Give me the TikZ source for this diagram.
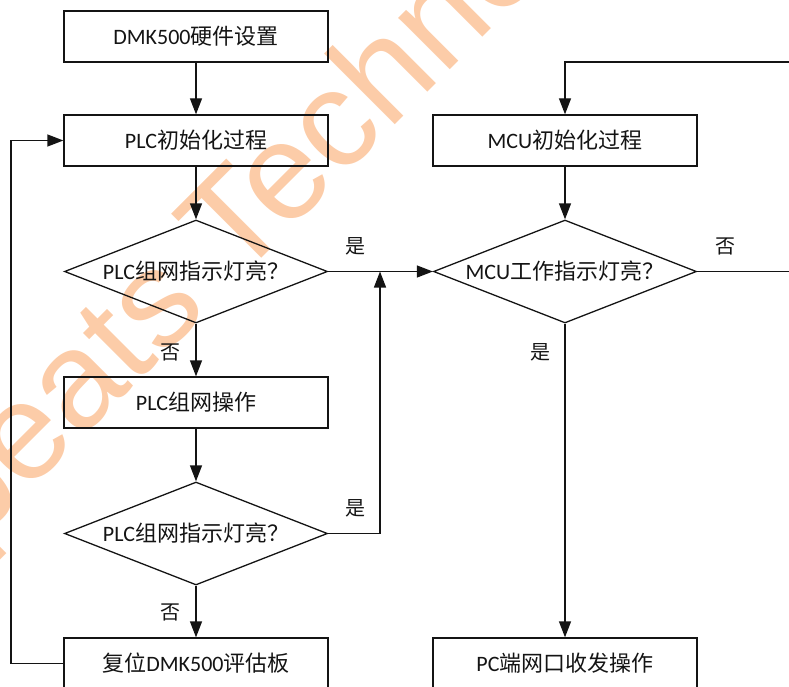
\documentclass[tikz,border=0pt]{standalone}
\usepackage{fontspec}
\setmainfont{Carlito}
\newfontfamily\cjk{Noto Sans CJK SC}
\newfontfamily\wmfont{Liberation Sans}
\usetikzlibrary{shapes.geometric,arrows.meta}
\definecolor{wmcol}{RGB}{252,204,168}
\definecolor{ink}{RGB}{20,20,20}
\begin{document}
\begin{tikzpicture}[x=1pt,y=-1pt,
  proc/.style={draw=ink,line width=1.3pt,minimum width=264pt,minimum height=51pt,inner sep=0pt,text=ink,font=\fontsize{22}{22}\selectfont},
  dec/.style={draw=ink,diamond,line width=1.3pt,minimum width=263pt,minimum height=103pt,inner sep=0pt,text=ink,font=\fontsize{22}{22}\selectfont},
  arr/.style={draw=ink,line width=1.3pt,-{Triangle[length=16pt,width=12pt]}},
  ln/.style={draw=ink,line width=1.3pt},
  lbl/.style={text=ink,inner sep=0pt,font=\cjk\fontsize{20}{20}\selectfont},
  wm/.style={text=wmcol,rotate=45,anchor=base west,inner sep=0pt,font=\wmfont\fontsize{138}{138}\selectfont}]
\path[use as bounding box] (0,0) rectangle (789,687);
\clip (0,0) rectangle (789,687);
% watermark
\node[wm] (wmark) at (-29,549) {peats Technology};
% left column
\node[proc] (b1) at (196,36.5) {DMK500{\cjk 硬件设置}};
\node[proc] (b2) at (196,140.5) {PLC{\cjk 初始化过程}};
\node[dec] (d1) at (196,271.5) {\makebox[0pt]{PLC{\cjk 组网指示灯亮？}}};
\node[proc] (b3) at (196,402.5) {PLC{\cjk 组网操作}};
\node[dec] (d2) at (196,533.5) {\makebox[0pt]{PLC{\cjk 组网指示灯亮？}}};
\node[proc] (b4) at (196,663.5) {{\cjk 复位}DMK500{\cjk 评估板}};
% right column
\node[proc] (m1) at (565,140.5) {MCU{\cjk 初始化过程}};
\node[dec] (md) at (565,271.5) {\makebox[0pt]{MCU{\cjk 工作指示灯亮？}}};
\node[proc] (pc) at (565,663.5) {PC{\cjk 端网口收发操作}};
% junctions
\coordinate (j) at (380,271.5);
\coordinate (lp) at (11,663.5);
\coordinate (r1) at (830,271.5);
\coordinate (r2) at (830,62);
% connectors
\draw[arr] (b1) -- (b2);
\draw[arr] (b2) -- (d1);
\draw[arr] (d1) -- (b3);
\draw[arr] (b3) -- (d2);
\draw[arr] (d2) -- (b4);
\draw[arr] (d1.east) -- (md.west);
\draw[arr] (d2.east) -| (j);
\draw[arr] (b4.west) -- (lp) |- (b2.west);
\draw[arr] (m1) -- (md);
\draw[arr] (md) -- (pc);
\draw[ln] (md.east) -- (r1);
\draw[arr] (r1) -- (r2) -| (m1.north);
% labels
\node[lbl] (l1) at (355,246) {是};
\node[lbl] (l2) at (170,352) {否};
\node[lbl] (l3) at (355,508) {是};
\node[lbl] (l4) at (170,612) {否};
\node[lbl] (l5) at (725,246) {否};
\node[lbl] (l6) at (540,352) {是};
\end{tikzpicture}
\end{document}
